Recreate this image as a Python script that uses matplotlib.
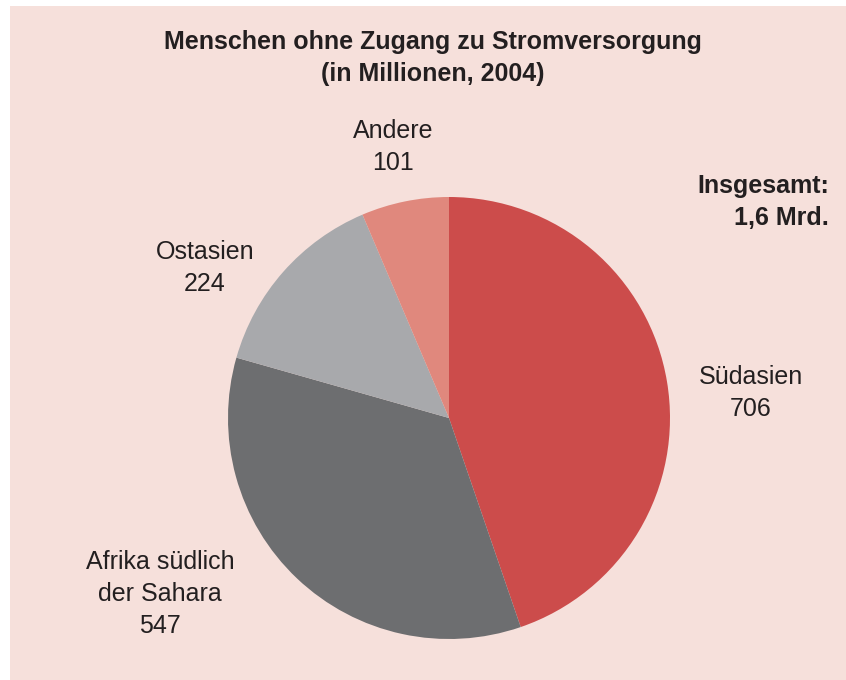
import matplotlib.pyplot as plt

# data (millions, 2004)
regions = ['Südasien', 'Afrika südlich\nder Sahara', 'Ostasien', 'Andere']
values = [706, 547, 224, 101]
colors = ['#cc4c4b', '#6d6e70', '#a8a9ac', '#e0887d']

W, H = 846, 680
plt.rcParams['font.family'] = ['Liberation Sans', 'DejaVu Sans']

fig = plt.figure(figsize=(W / 100, H / 100), dpi=100)
fig.patch.set_facecolor('white')

# pink panel behind everything
bg = fig.add_axes([10 / W, 0, 1 - 10 / W, 1 - 6 / H], zorder=-1)
bg.set_facecolor('#f6e0db')
bg.set_xticks([])
bg.set_yticks([])
for s in bg.spines.values():
    s.set_visible(False)

# pie centre (449, 418) px from top-left, radius 221 px
cx, cy, r = 449, 418, 221
ax = fig.add_axes([(cx - r) / W, (H - cy - r) / H, 2 * r / W, 2 * r / H])
ax.pie(values, colors=colors, startangle=90, counterclock=False,
       wedgeprops=dict(linewidth=0))
ax.set_xlim(-1, 1)
ax.set_ylim(-1, 1)
ax.set_aspect('equal')
ax.axis('off')

def ftxt(px, py, s, **kw):
    fig.text(px / W, 1 - py / H, s, color='#231f20', **kw)

ftxt(433, 58, 'Menschen ohne Zugang zu Stromversorgung\n(in Millionen, 2004)',
     ha='center', va='center', fontsize=18, fontweight='bold', linespacing=1.4)

label_pos = [(751, 393), (160, 594), (205, 268), (393, 147)]
for name, v, (px, py) in zip(regions, values, label_pos):
    ftxt(px, py, f'{name}\n{v}', ha='center', va='center', fontsize=18, linespacing=1.4)

ftxt(829, 202, 'Insgesamt:\n1,6 Mrd.', ha='right', va='center', fontsize=18,
     fontweight='bold', linespacing=1.4)

fig.savefig('out.png', dpi=100, facecolor=fig.get_facecolor())
